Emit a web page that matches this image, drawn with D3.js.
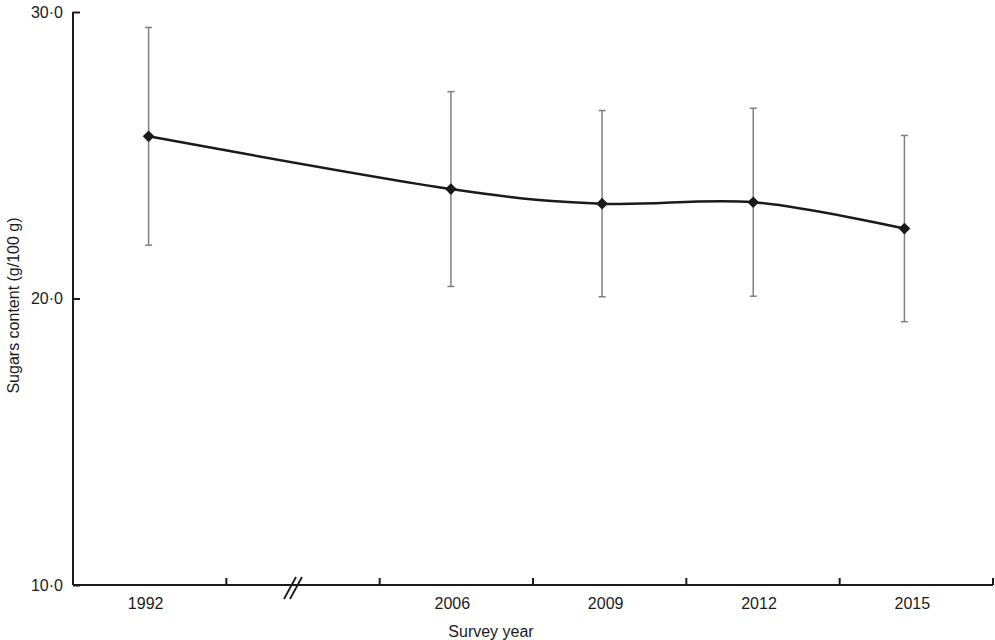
<!DOCTYPE html>
<html>
<head>
<meta charset="utf-8">
<script src="https://cdn.jsdelivr.net/npm/d3@7"></script>
<style>
  html, body { margin: 0; padding: 0; background: #fff; }
  svg { display: block; }
  text { font-family: "Liberation Sans", Arial, Helvetica, sans-serif; fill: #1a1a1a; }
</style>
</head>
<body>
<svg id="chart" width="995" height="640"></svg>
<script>
// ---- data ----
const axisCategories = ["1992", "break", "2006", "2009", "2012", "2015"];
const years = ["1992", "2006", "2009", "2012", "2015"];
const meanSugars = [25.66, 23.82, 23.31, 23.36, 22.44];
const sdSugars = [3.80, 3.40, 3.25, 3.28, 3.25];
const yTickValues = [10, 20, 30];
const xTitle = "Survey year";
const yTitle = "Sugars content (g/100 g)";

// ---- layout ----
const svg = d3.select("#chart");
const mLeft = 73, mRight = 993, mTop = 12, mBottom = 585;

const y = d3.scaleLinear().domain([10, 30]).range([mBottom, mTop]);
const xAxisScale = d3.scaleBand().domain(axisCategories).range([mLeft, mRight]).padding(0);
const markerScale = d3.scaleBand().domain(axisCategories).range([mLeft, 980]).padding(0);
const mx = c => markerScale(c) + markerScale.bandwidth() / 2;

const fmt = v => d3.format(".1f")(v).replace(".", "\u00B7");

// Y axis
const yAxis = svg.append("g")
  .attr("transform", `translate(${mLeft},0)`)
  .call(d3.axisRight(y).tickValues(yTickValues).tickSize(7).tickFormat(""));
yAxis.select(".domain").attr("stroke", "#1a1a1a").attr("stroke-width", 2)
  .attr("d", `M0,${mTop}V${mBottom}`);
yAxis.selectAll(".tick line").attr("stroke", "#1a1a1a").attr("stroke-width", 2);

svg.append("g").selectAll("text").data(yTickValues).join("text")
  .attr("x", mLeft - 10).attr("y", d => y(d)).attr("dy", "0.35em")
  .attr("text-anchor", "end").attr("font-size", 16).text(fmt);

// X axis
const edges = axisCategories.map(c => xAxisScale(c) + xAxisScale.bandwidth());
const xg = svg.append("g");
xg.append("line").attr("x1", mLeft).attr("x2", mRight).attr("y1", mBottom).attr("y2", mBottom)
  .attr("stroke", "#1a1a1a").attr("stroke-width", 2);
xg.selectAll("line.tk").data(edges).join("line").attr("class", "tk")
  .attr("x1", d => d).attr("x2", d => d).attr("y1", mBottom).attr("y2", mBottom - 7)
  .attr("stroke", "#1a1a1a").attr("stroke-width", 2);
xg.selectAll("text").data(axisCategories.filter(c => c !== "break")).join("text")
  .attr("x", c => xAxisScale(c) + xAxisScale.bandwidth() / 2 - 4)
  .attr("y", mBottom + 24).attr("text-anchor", "middle").attr("font-size", 16).text(c => c);

// break marks
const bx = xAxisScale("break") + xAxisScale.bandwidth() / 2 - 10;
[-3, 3].forEach(o => {
  xg.append("line")
    .attr("x1", bx + o - 6).attr("y1", mBottom + 14)
    .attr("x2", bx + o + 6).attr("y2", mBottom - 8)
    .attr("stroke", "#1a1a1a").attr("stroke-width", 1.8);
});

// titles
svg.append("text").attr("x", 491).attr("y", 637).attr("text-anchor", "middle")
  .attr("font-size", 16).text(xTitle);
svg.append("text").attr("transform", `translate(19,${(mTop + mBottom) / 2 + 7}) rotate(-90)`)
  .attr("text-anchor", "middle").attr("font-size", 16).text(yTitle);

// error bars
const pts = years.map((yr, i) => ({ yr, m: meanSugars[i], sd: sdSugars[i] }));
const eb = svg.append("g").attr("stroke", "#808080").attr("stroke-width", 1.5);
eb.selectAll("line.v").data(pts).join("line").attr("class", "v")
  .attr("x1", d => mx(d.yr)).attr("x2", d => mx(d.yr))
  .attr("y1", d => y(d.m + d.sd)).attr("y2", d => y(d.m - d.sd));
eb.selectAll("line.t").data(pts).join("line").attr("class", "t")
  .attr("x1", d => mx(d.yr) - 3.5).attr("x2", d => mx(d.yr) + 3.5)
  .attr("y1", d => y(d.m + d.sd)).attr("y2", d => y(d.m + d.sd));
eb.selectAll("line.b").data(pts).join("line").attr("class", "b")
  .attr("x1", d => mx(d.yr) - 3.5).attr("x2", d => mx(d.yr) + 3.5)
  .attr("y1", d => y(d.m - d.sd)).attr("y2", d => y(d.m - d.sd));

// smoothed line
const line = d3.line().x(d => mx(d.yr)).y(d => y(d.m)).curve(d3.curveCatmullRom.alpha(0));
svg.append("path").datum(pts).attr("d", line)
  .attr("fill", "none").attr("stroke", "#1a1a1a").attr("stroke-width", 2.5);

// diamond markers
svg.append("g").selectAll("path").data(pts).join("path")
  .attr("transform", d => `translate(${mx(d.yr)},${y(d.m)}) rotate(45)`)
  .attr("d", d3.symbol().type(d3.symbolSquare).size(68))
  .attr("fill", "#1a1a1a");
</script>
</body>
</html>
